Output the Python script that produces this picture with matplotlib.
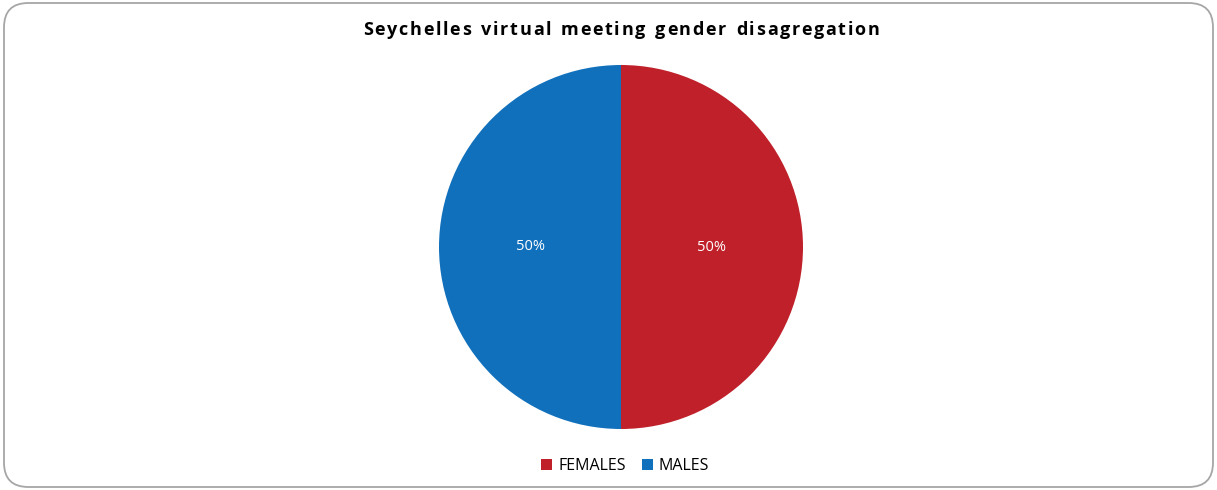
import matplotlib.pyplot as plt
from matplotlib.patches import FancyBboxPatch, Patch

labels = ['FEMALES', 'MALES']
values = [50, 50]
colors = ['#C0202A', '#1170BC']
title = 'Seychelles virtual meeting gender disagregation'

W, H = 1217, 490
fig = plt.figure(figsize=(W / 100, H / 100), dpi=100)
fig.patch.set_facecolor('white')

# rounded chart frame
frame = FancyBboxPatch((4 / W, 3 / H), 1209 / W, 484 / H,
                       boxstyle='round,pad=0,rounding_size=0.02',
                       transform=fig.transFigure, facecolor='none',
                       edgecolor='#A6A6A6', linewidth=1.3, mutation_aspect=W / H, zorder=-1)
fig.patches.append(frame)

# pie: centre (621, 247), radius 182 px
ax = fig.add_axes([(621 - 182) / W, (H - 247 - 182) / H, 364 / W, 364 / H])
wedges, texts, autotexts = ax.pie(values, colors=colors, startangle=90, counterclock=False,
                                  autopct='%1.0f%%', pctdistance=0.5, radius=1,
                                  textprops=dict(color='white', fontsize=10.5, family='Open Sans'))
ax.set_xlim(-1, 1)
ax.set_ylim(-1, 1)
ax.set_aspect('equal')

# title with extra letter spacing
renderer = fig.canvas.get_renderer()
spacing = 1.7  # px between letters
fs = 13
widths = []
for ch in title:
    t = fig.text(0, 0, ch if ch != ' ' else 'n', fontsize=fs, fontweight='bold', family='Open Sans')
    w = t.get_window_extent(renderer).width
    if ch == ' ':
        w *= 0.55
    widths.append(w)
    t.remove()
total = sum(widths) + spacing * (len(title) - 1)
x = 621 - total / 2
for ch, w in zip(title, widths):
    if ch != ' ':
        fig.text(x / W, 1 - 30 / H, ch, ha='left', va='center', fontsize=fs,
                 fontweight='bold', family='Open Sans')
    x += w + spacing

handles = [Patch(facecolor=c, edgecolor='none') for c in colors]
fig.legend(handles, labels, loc='center', bbox_to_anchor=(625 / W, 1 - 466 / H),
           ncol=2, frameon=False, handlelength=0.7, handleheight=0.7,
           handletextpad=0.35, columnspacing=1.0, prop=dict(family='Open Sans', size=11.5))

fig.savefig('out.png', dpi=100)
